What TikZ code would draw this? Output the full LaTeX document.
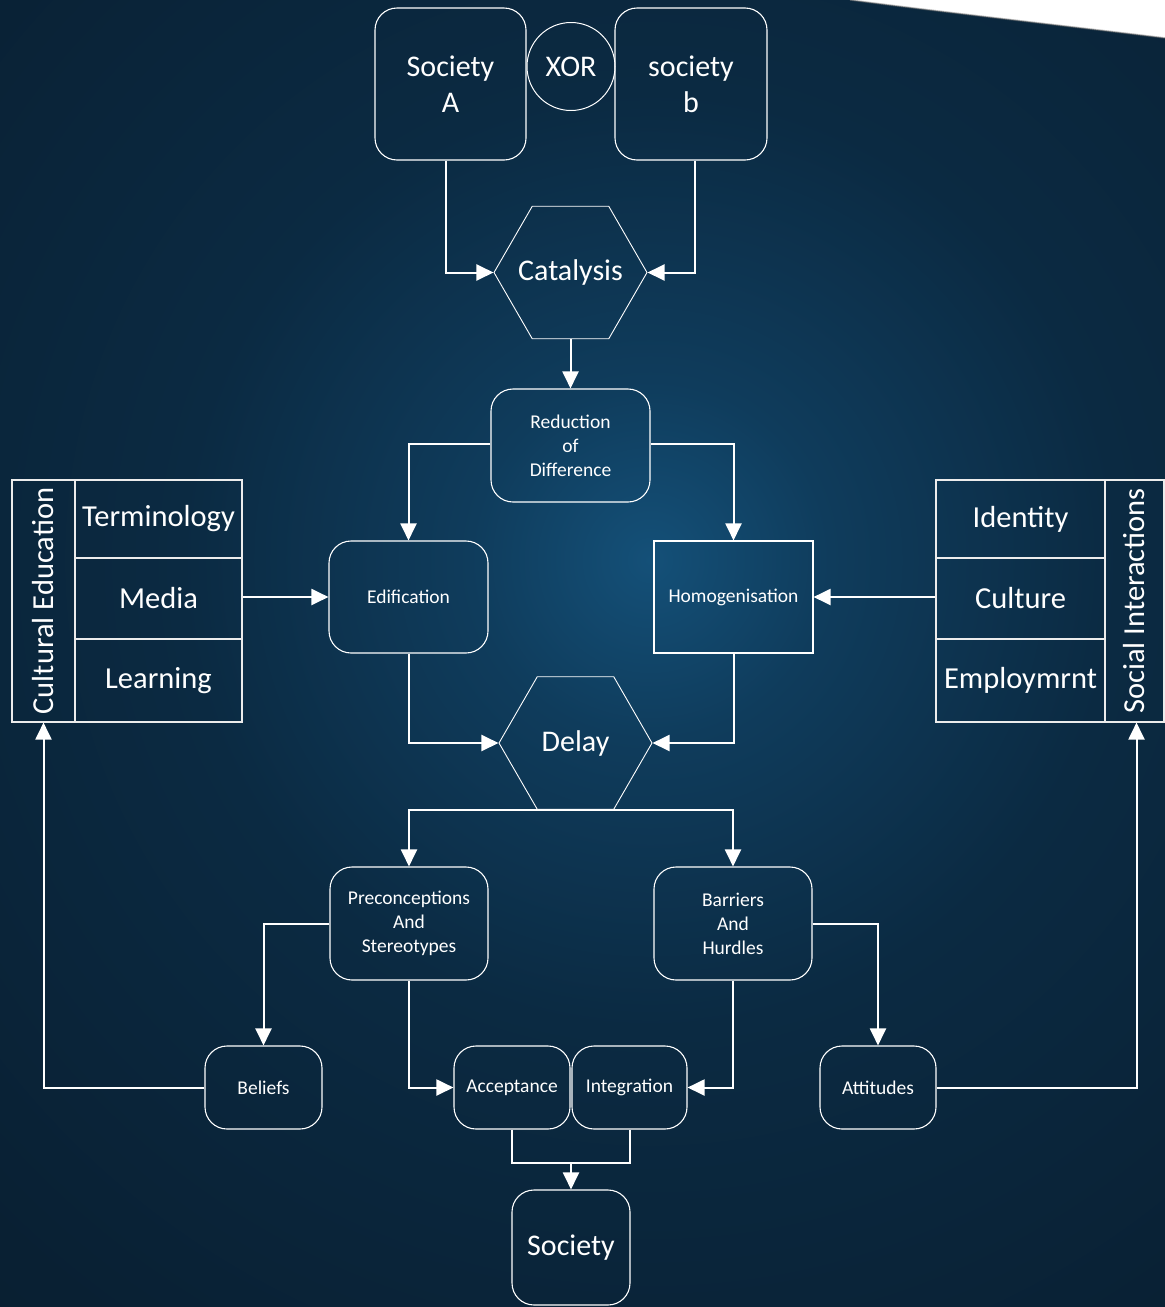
\documentclass[tikz,border=0pt]{standalone}
\usepackage{fontspec}
\setmainfont{Carlito}
\usetikzlibrary{arrows.meta,shapes.geometric}
\definecolor{bgA}{RGB}{20,80,120}
\definecolor{bgB}{RGB}{15,60,92}
\definecolor{bgC}{RGB}{11,42,66}
\definecolor{bgD}{RGB}{9,32,51}
\definecolor{bgE}{RGB}{8,26,42}
\pgfdeclareradialshading{bgshade}{\pgfpoint{0bp}{0bp}}{color(0bp)=(bgA); color(5bp)=(bgB); color(13bp)=(bgC); color(26bp)=(bgD); color(42bp)=(bgE); color(50bp)=(bgE)}
\begin{document}
\begin{tikzpicture}[x=1pt,y=-1pt,
  big/.style={font=\fontsize{30}{36}\selectfont},
  tab/.style={font=\fontsize{30.5}{36}\selectfont},
  small/.style={font=\fontsize{19.5}{24}\selectfont},
  rbox/.style={draw=white, line width=1.1pt, rounded corners=22pt, text=white, align=center, inner sep=0pt},
  sbox/.style={draw=white, line width=1.1pt, text=white, align=center, inner sep=0pt},
  hexa/.style={regular polygon, regular polygon sides=6, draw=white, line width=0.9pt, minimum size=153pt, inner sep=0pt, text=white},
  cell/.style={draw=white!85!gray, line width=1.1pt, text=white, inner sep=0pt, align=center},
  conn/.style={draw=white, line width=2pt},
  arr/.style={draw=white, line width=2pt, -{Triangle[length=17pt,width=16pt]}}
]
\useasboundingbox (0,0) rectangle (1165,1307);
\begin{scope}
  \clip (0,0) rectangle (1165,1307);
  \shade[shading=bgshade] (-250,-340) rectangle (1550,1460);
  \fill[white] (850,0) .. controls (950,13) and (1050,24) .. (1165,38) -- (1165,0) -- cycle;
  \draw[black!60, line width=1.5pt, opacity=0.5] (850,0) .. controls (950,13) and (1050,24) .. (1165,38);
\end{scope}

% top row
\node[rbox, big, minimum width=151pt, minimum height=152pt] (socA) at (450.5,84) {Society\\A};
\node[circle, draw=white, line width=1pt, text=white, big, minimum size=88pt, inner sep=0pt] (xor) at (571,66.5) {XOR};
\node[rbox, big, minimum width=152pt, minimum height=152pt] (socB) at (691,84) {society\\b};

\node[hexa, big] (cat) at (570.5,272.5) {\makebox[0pt]{Catalysis}};
\node[rbox, small, minimum width=159pt, minimum height=113pt] (red) at (570.5,445.5) {Reduction\\of\\Difference};

\node[rbox, small, minimum width=159pt, minimum height=112pt] (edif) at (408.5,597) {Edification};
\node[sbox, small, minimum width=159pt, minimum height=112pt] (homo) at (733.5,597) {Homogenisation};

\node[hexa, big] (delay) at (575.5,743) {\makebox[0pt]{Delay}};

% left table
\node[cell, tab, minimum width=63pt, minimum height=242pt] (ce) at (43.5,601) {\rotatebox{90}{Cultural Education}};
\node[cell, tab, minimum width=167pt, minimum height=78pt] (term) at (158.5,519) {\makebox[0pt]{Terminology}};
\node[cell, tab, minimum width=167pt, minimum height=81pt] (media) at (158.5,598.5) {Media};
\node[cell, tab, minimum width=167pt, minimum height=83pt] (learn) at (158.5,680.5) {Learning};

% right table
\node[cell, tab, minimum width=169pt, minimum height=78pt] (ident) at (1020.5,519) {Identity};
\node[cell, tab, minimum width=169pt, minimum height=81pt] (cult) at (1020.5,598.5) {Culture};
\node[cell, tab, minimum width=169pt, minimum height=83pt] (emp) at (1020.5,680.5) {\makebox[0pt]{Employmrnt}};
\node[cell, tab, minimum width=59pt, minimum height=242pt] (si) at (1134.5,601) {\rotatebox{90}{\makebox[0pt]{Social Interactions}}};

% lower boxes
\node[rbox, small, minimum width=158pt, minimum height=113pt] (prec) at (409,923.5) {Preconceptions\\And\\Stereotypes};
\node[rbox, small, minimum width=158pt, minimum height=113pt] (barr) at (733,923.5) {Barriers\\And\\Hurdles};

\node[rbox, small, minimum width=117pt, minimum height=83pt] (bel) at (263.5,1087.5) {Beliefs};
\node[rbox, small, minimum width=116pt, minimum height=83pt] (acc) at (512,1087.5) {\makebox[0pt]{Acceptance}};
\node[rbox, small, minimum width=115pt, minimum height=83pt] (integ) at (629.5,1087.5) {Integration};
\node[rbox, small, minimum width=116pt, minimum height=83pt] (att) at (878,1087.5) {Attitudes};

\node[rbox, big, minimum width=118pt, minimum height=115pt] (soc) at (571,1247.5) {Society};

% connectors
\draw[arr] ([xshift=-4.5pt]socA.south) |- (cat.west);
\draw[arr] ([xshift=4pt]socB.south) |- (cat.east);
\draw[arr] (cat.south) -- (red.north);
\draw[arr] ([yshift=1.5pt]red.west) -| (edif.north);
\draw[arr] ([yshift=1.5pt]red.east) -| (homo.north);
\draw[arr] (media.east |- edif.west) -- (edif.west);
\draw[arr] (cult.west |- homo.east) -- (homo.east);
\draw[arr] (edif.south) |- (delay.west);
\draw[arr] (homo.south) |- (delay.east);
\draw[arr] (delay.south) -| (prec.north);
\draw[arr] (delay.south) -| (barr.north);
\draw[arr] (prec.west) -| (bel.north);
\draw[arr] (prec.south) |- (acc.west);
\draw[arr] (barr.south) |- (integ.east);
\draw[arr] (barr.east) -| (att.north);
\draw[arr] (bel.west) -| (ce.south);
\draw[arr] (att.east) -| ([xshift=2pt]si.south);
\coordinate (join) at (571,1163);
\draw[conn] (acc.south) |- (join) -| (integ.south);
\draw[arr] (join) -- (soc.north);
\end{tikzpicture}
\end{document}
